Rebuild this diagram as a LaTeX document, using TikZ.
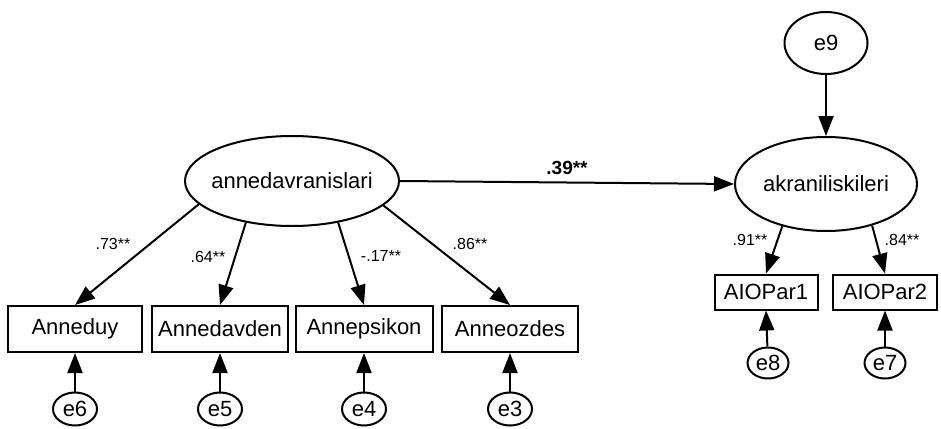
\documentclass[tikz,border=0pt]{standalone}
\usepackage{fontspec}
\setmainfont{Liberation Sans}
\usetikzlibrary{shapes.geometric,arrows.meta}
\newcommand{\zw}[1]{\makebox[0pt]{#1}}
\begin{document}
\begin{tikzpicture}[x=1pt,y=-1pt,
  every node/.style={font=\fontsize{22}{25}\selectfont},
  lat/.style={draw,ellipse,line width=2pt,inner sep=0pt},
  obs/.style={draw,rectangle,line width=2pt,inner sep=0pt},
  err/.style={draw,ellipse,line width=2pt,inner sep=0pt,minimum width=44pt,minimum height=33pt},
  path/.style={line width=2pt,-{Triangle[length=20pt,width=15pt]}},
  coef/.style={font=\fontsize{16}{18}\selectfont,inner sep=0pt}]
\useasboundingbox (0,0) rectangle (941,428);
% latent
\node[lat,minimum width=214pt,minimum height=90pt] (ad) at (292,181) {\zw{annedavranislari}};
\node[lat,minimum width=182pt,minimum height=94pt] (ak) at (826,184) {\zw{akraniliskileri}};
\node[lat,minimum width=83pt,minimum height=62pt] (e9) at (826,43) {\zw{e9}};
% observed left
\node[obs,minimum width=134pt,minimum height=46pt] (b1) at (75,329) {Anneduy};
\node[obs,minimum width=136pt,minimum height=46pt] (b2) at (220,329) {Annedavden};
\node[obs,minimum width=137pt,minimum height=46pt] (b3) at (364,329) {Annepsikon};
\node[obs,minimum width=136pt,minimum height=46pt] (b4) at (510,329) {Anneozdes};
% observed right
\node[obs,minimum width=103pt,minimum height=35pt] (p1) at (766,292) {AIOPar1};
\node[obs,minimum width=104pt,minimum height=35pt] (p2) at (885,292) {AIOPar2};
% errors
\node[err] (e6) at (75,409) {\zw{e6}};
\node[err] (e5) at (220,409) {\zw{e5}};
\node[err] (e4) at (364,409) {\zw{e4}};
\node[err] (e3) at (510,409) {\zw{e3}};
\node[err,minimum width=41pt,minimum height=31pt] (e8) at (768,363) {\zw{e8}};
\node[err,minimum width=41pt,minimum height=31pt] (e7) at (885,363) {\zw{e7}};
% paths
\draw[path] (ad.194) -- (b1.north);
\draw[path] (ad.222) -- (b2.north);
\draw[path] (ad.318) -- (b3.north);
\draw[path] (ad.345) -- (b4.north);
\draw[path] (ad.east) -- (ak.west);
\draw[path] (e9.south) -- (ak.north);
\draw[path] (ak.224) -- (p1.north);
\draw[path] (ak.318) -- (p2.north);
\draw[path] (e6) -- (b1.south);
\draw[path] (e5) -- (b2.south);
\draw[path] (e4) -- (b3.south);
\draw[path] (e3) -- (b4.south);
\draw[path] (e8) -- (p1.south);
\draw[path] (e7) -- (p2.south);
% coefficients
\node[coef] (c1) at (113,244) {.73**};
\node[coef] (c2) at (208,257) {.64**};
\node[coef] (c3) at (381,256) {-.17**};
\node[coef] (c4) at (470,244) {.86**};
\node[coef,font=\fontsize{19}{21}\selectfont\bfseries] (c5) at (567,168) {.39**};
\node[coef] (c6) at (750,240) {.91**};
\node[coef] (c7) at (902,240) {.84**};
\end{tikzpicture}
\end{document}
